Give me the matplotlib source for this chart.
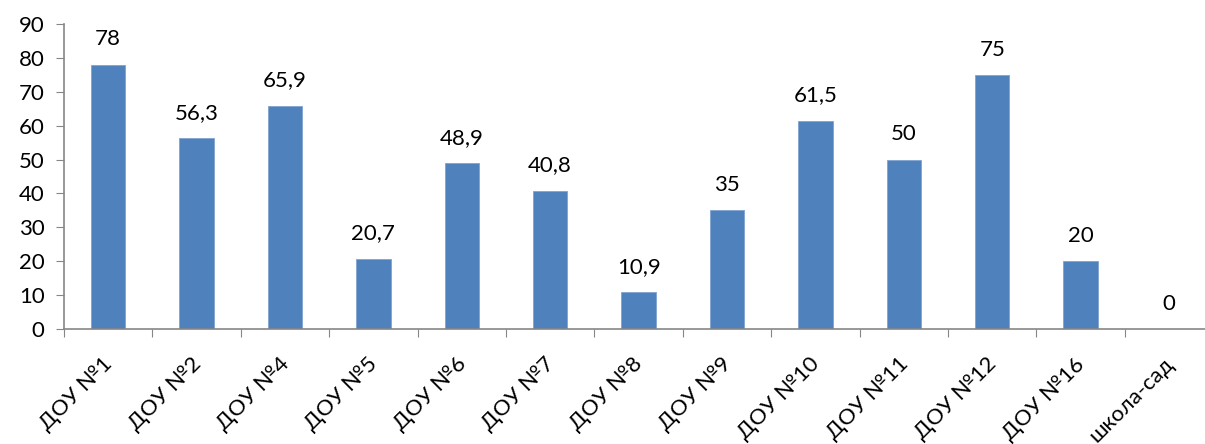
import matplotlib
matplotlib.use("Agg")
import matplotlib.pyplot as plt
import matplotlib.transforms as mtransforms
import numpy as np

plt.rcParams['font.family'] = ['Lato', 'DejaVu Sans']

# categories and values
categories = ["ДОУ №1", "ДОУ №2", "ДОУ №4", "ДОУ №5", "ДОУ №6", "ДОУ №7", "ДОУ №8",
              "ДОУ №9", "ДОУ №10", "ДОУ №11", "ДОУ №12", "ДОУ №16", "школа-сад"]
values = [78, 56.3, 65.9, 20.7, 48.9, 40.8, 10.9, 35, 61.5, 50, 75, 20, 0]
value_labels = ["78", "56,3", "65,9", "20,7", "48,9", "40,8", "10,9",
                "35", "61,5", "50", "75", "20", "0"]
y_ticks = [0, 10, 20, 30, 40, 50, 60, 70, 80, 90]

fig = plt.figure(figsize=(12.05, 4.44), dpi=100)
ax = fig.add_axes([64 / 1205, 1 - 329 / 444, 13 * 88.4 / 1205, 305 / 444])

x = np.arange(len(categories))
ax.bar(x, values, width=0.39, color="#4F81BD", edgecolor="#7FA3D1", linewidth=0.6)

# value labels above bars
for xi, v, lab in zip(x, values, value_labels):
    ax.annotate(lab, (xi, v), xytext=(0, 11), textcoords="offset points",
                ha="center", va="bottom", fontsize=16)

ax.set_xlim(-0.5, len(categories) - 0.5)
ax.set_ylim(0, 90)
ax.set_yticks(y_ticks)
ax.set_yticklabels([str(t) for t in y_ticks], fontsize=16)

# category ticks between bars, labels at bar centres
ax.set_xticks(np.arange(-0.5, len(categories), 1.0))
ax.set_xticklabels([])
ax.set_xticks(x, minor=True)
ax.set_xticklabels(categories, minor=True, rotation=45, ha="right",
                   rotation_mode="anchor", fontsize=16)
ax.tick_params(axis="x", which="minor", length=0, pad=18)
ax.tick_params(axis="x", which="major", length=6, direction="out", color="#868686")
ax.tick_params(axis="y", length=6, direction="out", color="#868686", pad=8)

# nudge the rotated labels a little to the left, as in the reference
shift = mtransforms.ScaledTranslation(-6 / 100, 0, fig.dpi_scale_trans)
for lbl in ax.get_xticklabels(minor=True):
    lbl.set_transform(lbl.get_transform() + shift)

for side in ["top", "right"]:
    ax.spines[side].set_visible(False)
for side in ["left", "bottom"]:
    ax.spines[side].set_color("#868686")
    ax.spines[side].set_linewidth(1.2)

fig.savefig("out.png", dpi=100)
